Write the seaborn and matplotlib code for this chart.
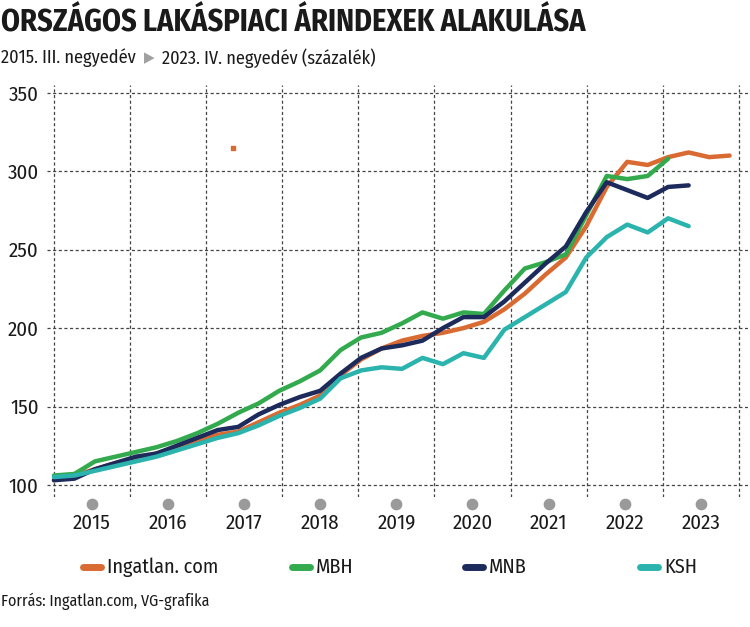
import matplotlib.pyplot as plt
import matplotlib.transforms as mtransforms
import numpy as np
import pandas as pd
import seaborn as sns
from matplotlib.lines import Line2D

# quarterly index values, 2015 Q3 -> 2023 Q4
quarters = [f'{y}. Q{q}' for y in range(2015, 2024) for q in range(1, 5)][2:]

ingatlan = [103, 106, 110, 114, 117, 120, 124, 128, 132, 134, 140, 146, 151,
            157, 170, 180, 187, 192, 195, 197, 200, 204, 212, 222, 234, 245,
            265, 290, 306, 304, 309, 312, 309, 310]
mbh = [106, 107, 115, 118, 121, 124, 128, 133, 139, 146, 152, 160, 166, 173,
       186, 194, 197, 203, 210, 206, 210, 209, 224, 238, 242, 247, 272, 297,
       295, 297, 308]
mnb = [103, 104, 110, 114, 118, 120, 125, 130, 135, 137, 145, 151, 156, 160,
       171, 181, 187, 189, 192, 200, 207, 207, 217, 229, 241, 252, 274, 293,
       288, 283, 290, 291]
ksh = [105, 106, 109, 112, 115, 118, 122, 126, 130, 133, 138, 144, 149, 155,
       168, 173, 175, 174, 181, 177, 184, 181, 199, 207, 215, 223, 245, 258,
       266, 261, 270, 265]

series_names = ['Ingatlan. com', 'MBH', 'MNB', 'KSH']
series_values = [ingatlan, mbh, mnb, ksh]
colors = ['#D96A32', '#33AA4E', '#1D2A5C', '#2BB3AE']

# stray orange marker left in the original graphic
stray_x = [8.74]
stray_y = [314.7]

years = ['2015', '2016', '2017', '2018', '2019', '2020', '2021', '2022', '2023']
yticks = [100, 150, 200, 250, 300, 350]

rows = []
for name, vals in zip(series_names, series_values):
    for i, v in enumerate(vals):
        rows.append({'idx': i, 'negyedev': quarters[i], 'sorozat': name,
                     'ertek': v})
df = pd.DataFrame(rows)

sns.set_style('white')
plt.rcParams['font.family'] = ['Fira Sans Condensed', 'DejaVu Sans']
plt.rcParams['font.stretch'] = 'condensed'
plt.rcParams['text.color'] = '#1a1a1a'

fig = plt.figure(figsize=(7.5, 6.27), dpi=100)
ax = fig.add_axes([47 / 750, 1 - 497 / 627, 701 / 750, 412 / 627])

sns.lineplot(data=df, x='idx', y='ertek', hue='sorozat',
             hue_order=series_names, palette=colors, linewidth=3.2,
             legend=False, ax=ax)
ax.scatter(stray_x, stray_y, marker='s', s=10, color=colors[0], zorder=5)

# year boundaries (gridlines) and labels in between
year_edges = np.linspace(0, 33.45, len(years) + 1)
year_mid = (year_edges[:-1] + year_edges[1:]) / 2

ax.set_xlim(-0.34, 33.9)
ax.set_ylim(92.3, 355)
ax.set_xticks(year_edges)
ax.set_xticklabels([])
ax.set_yticks(yticks)
ax.set_yticklabels([str(t) for t in yticks], fontsize=15, color='#1a1a1a')
ax.tick_params(axis='both', length=0, pad=6)
ax.set_xlabel('')
ax.set_ylabel('')
ax.grid(True, linestyle=(0, (2.5, 2)), color='#444444', linewidth=0.9)
ax.set_axisbelow(True)
for s in ax.spines.values():
    s.set_visible(False)

trans = mtransforms.blended_transform_factory(ax.transData, ax.transAxes)
ax.scatter(year_mid, [-0.016] * len(years), s=55, color='#9A9A9A',
           transform=trans, clip_on=False, zorder=3)
for xm, yr in zip(year_mid, years):
    ax.text(xm, -0.063, yr, transform=trans, ha='center', va='center',
            fontsize=15)

# legend below the plot
leg_x = [83, 292, 465, 640]
leg_y = 1 - 567 / 627
for lx, name, c in zip(leg_x, series_names, colors):
    fig.add_artist(Line2D([lx / 750, (lx + 18) / 750], [leg_y, leg_y],
                          color=c, linewidth=5, solid_capstyle='round',
                          transform=fig.transFigure))
    fig.text((lx + 24) / 750, leg_y, name, ha='left', va='center',
             fontsize=14.5)

# title and subtitle
fig.text(1 / 750, 1 - 23 / 627, 'ORSZÁGOS LAKÁSPIACI ÁRINDEXEK ALAKULÁSA',
         fontsize=21.8, fontweight='bold', ha='left', va='center')
t1 = fig.text(1 / 750, 1 - 58 / 627, '2015. III. negyedév', fontsize=13.2,
              ha='left', va='center')
fig.canvas.draw()
bb = t1.get_window_extent()
tri = fig.text((bb.x1 + 8) / 750, 1 - 58 / 627, '\u25B6', fontsize=11,
               color='#A0A0A0', ha='left', va='center',
               family='DejaVu Sans')
fig.canvas.draw()
bb2 = tri.get_window_extent()
fig.text((bb2.x1 + 8) / 750, 1 - 58 / 627,
         '2023. IV. negyedév (százalék)', fontsize=13.2, ha='left',
         va='center')

fig.text(1 / 750, 1 - 601 / 627, 'Forrás: Ingatlan.com, VG-grafika',
         fontsize=11.5, ha='left', va='center')

fig.savefig('out.png', dpi=100)
